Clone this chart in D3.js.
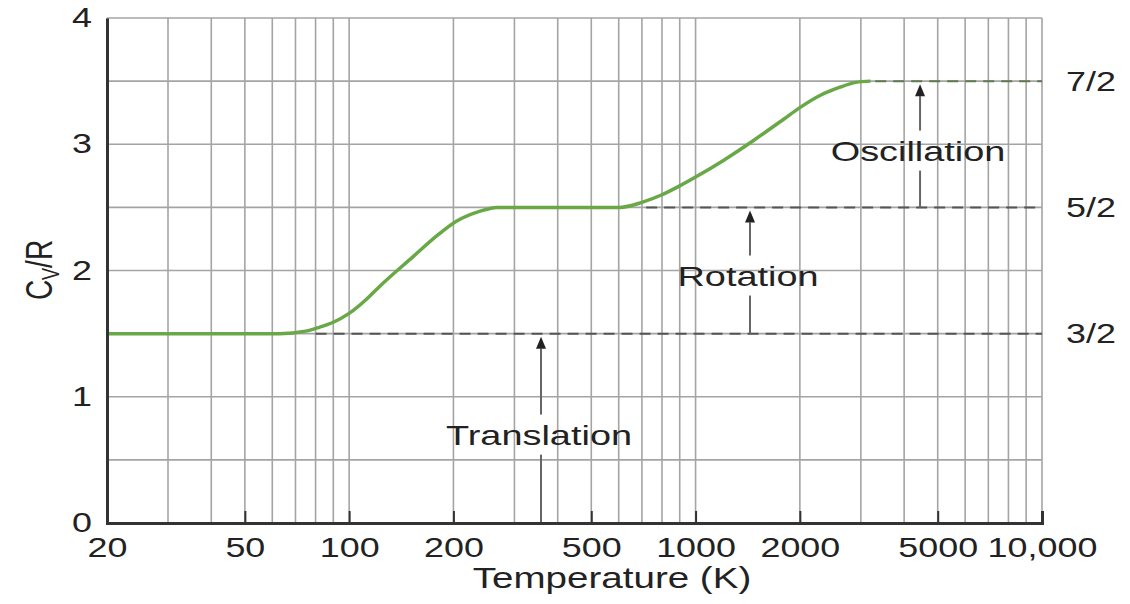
<!DOCTYPE html>
<html>
<head>
<meta charset="utf-8">
<script src="https://cdn.jsdelivr.net/npm/d3@7"></script>
<style>
  body { margin: 0; background: #fff; }
  text { font-family: 'Liberation Sans', Arial, sans-serif; fill: #222; }
</style>
</head>
<body>
<svg id="chart" width="1130" height="604"></svg>
<script>
// Molar heat capacity of a diatomic gas vs temperature

// Curve
const temps = [20, 63, 75, 82, 90, 100, 113, 122, 153, 180, 204, 239, 267, 400, 605, 700, 800, 900, 1000, 1200, 1470, 1800, 2000, 2300, 2600, 2900, 3200];
const cvValues = [1.5, 1.5, 1.52, 1.55, 1.59, 1.66, 1.78, 1.87, 2.11, 2.28, 2.39, 2.47, 2.5, 2.5, 2.5, 2.54, 2.6, 2.67, 2.74, 2.87, 3.03, 3.2, 3.29, 3.39, 3.45, 3.49, 3.5];

// Axes
const xTicks = [20, 50, 100, 200, 500, 1000, 2000, 5000, 10000];
const xTickLabels = ['20', '50', '100', '200', '500', '1000', '2000', '5000', '10,000'];
const yTicks = [0, 1, 2, 3, 4];
const yTickLabels = ['0', '1', '2', '3', '4'];
const gridTemps = [20, 30, 40, 50, 60, 70, 80, 90, 100, 200, 300, 400, 500, 600, 700, 800, 900, 1000, 2000, 3000, 4000, 5000, 6000, 7000, 8000, 9000, 10000];
const gridLevels = [0.5, 1, 1.5, 2, 2.5, 3, 3.5, 4];

// Plateaus (dashed) and where the dashes begin
const levels = [1.5, 2.5, 3.5];
const levelLabels = ['3/2', '5/2', '7/2'];
const levelStarts = [80, 720, 3300];

// Arrows for the modes of motion
const modes = ['Translation', 'Rotation', 'Oscillation'];
const modeTemps = [358, 1436, 4446];
const modeFrom = [0, 1.5, 2.5];
const modeTo = [1.5, 2.5, 3.5];
const modeTextLevel = [0.7, 1.96, 2.95];

const SX = 1.33; // text in the picture is stretched sideways

const svg = d3.select('#chart');
const area = { left: 107, right: 1042, top: 18, bottom: 523 };

const x = d3.scaleLog().domain([20, 10000]).range([area.left, area.right]);
const y = d3.scaleLinear().domain([0, 4]).range([area.bottom, area.top]);

// Grid
svg.append('g')
  .selectAll('line')
  .data(gridTemps)
  .enter()
  .append('line')
  .attr('x1', (d) => x(d))
  .attr('x2', (d) => x(d))
  .attr('y1', y(4))
  .attr('y2', y(0))
  .attr('stroke', '#a4a4a4')
  .style('stroke-width', '1.6px');
svg.append('g')
  .selectAll('line')
  .data(gridLevels)
  .enter()
  .append('line')
  .attr('x1', x(20))
  .attr('x2', x(10000))
  .attr('y1', (d) => y(d))
  .attr('y2', (d) => y(d))
  .attr('stroke', '#a4a4a4')
  .style('stroke-width', '1.6px');

// Dashed plateaus
svg.append('g')
  .selectAll('line')
  .data(levels)
  .enter()
  .append('line')
  .attr('x1', (d, i) => x(levelStarts[i]))
  .attr('x2', x(10000))
  .attr('y1', (d) => y(d))
  .attr('y2', (d) => y(d))
  .attr('stroke', (d, i) => (i === 2 ? '#5e7a4e' : '#555'))
  .attr('stroke-dasharray', '11,7')
  .style('stroke-width', '2px');

// Right side labels
svg.append('g')
  .selectAll('text')
  .data(levels)
  .enter()
  .append('text')
  .attr('transform', (d) => `translate(1066,${y(d)}) scale(${SX},1)`)
  .attr('dy', '0.35em')
  .style('font-size', '27px')
  .text((d, i) => levelLabels[i]);

// Curve
const line = d3
  .line()
  .x((d) => x(d[0]))
  .y((d) => y(d[1]))
  .curve(d3.curveMonotoneX);
svg
  .append('path')
  .datum(d3.zip(temps, cvValues))
  .attr('d', line)
  .attr('fill', 'none')
  .attr('stroke', '#68a846')
  .style('stroke-width', '3.5px');

// Arrows and mode labels
const arrows = svg.append('g');
modes.forEach((name, i) => {
  const ax = x(modeTemps[i]);
  const tipY = y(modeTo[i]) + 3;
  const baseY = tipY + 12;
  const textY = y(modeTextLevel[i]);
  arrows.append('line')
    .attr('x1', ax).attr('x2', ax)
    .attr('y1', y(modeFrom[i])).attr('y2', textY + 20)
    .attr('stroke', '#666').style('stroke-width', '2px');
  arrows.append('line')
    .attr('x1', ax).attr('x2', ax)
    .attr('y1', textY - 20).attr('y2', baseY)
    .attr('stroke', '#666').style('stroke-width', '2px');
  arrows.append('path')
    .attr('d', `M${ax},${tipY}L${ax - 5},${baseY}L${ax + 5},${baseY}Z`)
    .attr('fill', '#222');
  arrows.append('text')
    .attr('transform', `translate(${ax - 2},${textY}) scale(${SX},1)`)
    .attr('text-anchor', 'middle')
    .attr('dy', '0.35em')
    .style('font-size', '28.5px')
    .text(name);
});

// X axis
const xAxis = svg
  .append('g')
  .attr('transform', `translate(0,${area.bottom})`)
  .call(
    d3.axisBottom(x)
      .tickValues(xTicks)
      .tickFormat((d, i) => xTickLabels[i])
      .tickSize(-12)
      .tickPadding(15)
  );
xAxis.select('.domain').attr('stroke', '#333').style('stroke-width', '3px');
xAxis.selectAll('.tick line').attr('stroke', '#333').style('stroke-width', '2px');
xAxis.selectAll('.tick text')
  .attr('transform', `scale(${SX},1)`)
  .style('font-size', '27px')
  .style('font-family', "'Liberation Sans', Arial, sans-serif")
  .attr('fill', '#222');

// Y axis
const yAxis = svg
  .append('g')
  .attr('transform', `translate(${area.left},0)`)
  .call(
    d3.axisLeft(y)
      .tickValues(yTicks)
      .tickFormat((d, i) => yTickLabels[i])
      .tickSize(0)
      .tickPadding(0)
  );
yAxis.select('.domain').attr('stroke', '#333').style('stroke-width', '3px');
yAxis.selectAll('.tick text')
  .attr('x', 0)
  .attr('transform', `translate(-15,0) scale(${SX},1)`)
  .style('font-size', '27px')
  .style('font-family', "'Liberation Sans', Arial, sans-serif")
  .attr('fill', '#222');

// Axis titles
svg
  .append('text')
  .attr('transform', `translate(612,588) scale(${SX},1)`)
  .attr('text-anchor', 'middle')
  .style('font-size', '29px')
  .text('Temperature (K)');

const yTitle = svg
  .append('text')
  .attr('transform', `translate(52,270) rotate(-90) scale(1,${SX})`)
  .attr('text-anchor', 'middle')
  .style('font-size', '28px');
yTitle.append('tspan').text('C');
yTitle.append('tspan').attr('dy', '5px').style('font-size', '18px').text('V');
yTitle.append('tspan').attr('dy', '-5px').text('/R');
</script>
</body>
</html>
